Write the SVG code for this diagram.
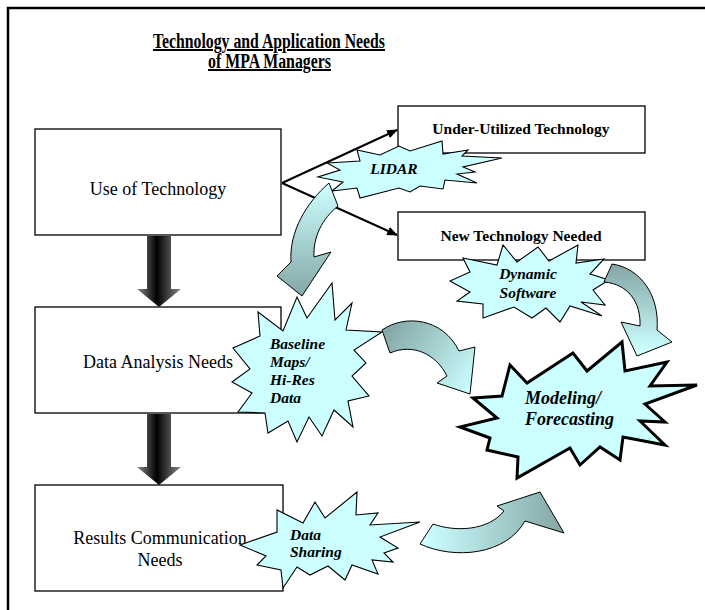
<svg xmlns="http://www.w3.org/2000/svg" width="705" height="610" viewBox="0 0 705 610">
<style>
.box{fill:#fff;stroke:#000;stroke-width:1.3}
.star{fill:#CCFFFF;stroke:#000;stroke-width:1.1;stroke-linejoin:miter}
.big{stroke-width:3}
.t{font-family:"Liberation Serif","Times New Roman",serif;fill:#000}
.reg{font-size:18px}
.bold{font-size:15.5px;font-weight:bold}
.bi{font-size:15.5px;font-weight:bold;font-style:italic}
.link{stroke:#000;stroke-width:2;fill:none}
.carrow{stroke:#000;stroke-width:1}
</style>
<defs>
<marker id="ah" viewBox="0 0 10 8" refX="9" refY="4" markerWidth="5.5" markerHeight="4.5" markerUnits="strokeWidth" orient="auto">
<path d="M0,0 L10,4 L0,8 z" fill="#000"/>
</marker>
<linearGradient id="blk" x1="0" y1="0" x2="1" y2="0">
<stop offset="0" stop-color="#8a8a8a"/>
<stop offset="0.45" stop-color="#000"/>
<stop offset="1" stop-color="#8a8a8a"/>
</linearGradient>
<linearGradient id="g1" gradientUnits="userSpaceOnUse" x1="0" y1="185" x2="0" y2="296">
<stop offset="0" stop-color="#CCFFFF"/>
<stop offset="1" stop-color="#84A6A6"/>
</linearGradient>
<linearGradient id="g2" gradientUnits="userSpaceOnUse" x1="0" y1="265" x2="0" y2="350">
<stop offset="0" stop-color="#84A6A6"/>
<stop offset="1" stop-color="#CCFFFF"/>
</linearGradient>
<linearGradient id="g3" gradientUnits="userSpaceOnUse" x1="385" y1="330" x2="470" y2="392">
<stop offset="0" stop-color="#84A6A6"/>
<stop offset="1" stop-color="#CCFFFF"/>
</linearGradient>
<linearGradient id="g4" gradientUnits="userSpaceOnUse" x1="425" y1="0" x2="563" y2="0">
<stop offset="0" stop-color="#CCFFFF"/>
<stop offset="1" stop-color="#84A6A6"/>
</linearGradient>
</defs>

<rect x="8" y="8" width="730" height="640" fill="none" stroke="#000" stroke-width="2.5"/>

<g id="title">
<text class="t" x="269" y="48" font-size="20" font-weight="bold" text-anchor="middle" text-decoration="underline" textLength="232" lengthAdjust="spacingAndGlyphs">Technology and Application Needs</text>
<text class="t" x="269.5" y="68" font-size="20" font-weight="bold" text-anchor="middle" text-decoration="underline" textLength="123" lengthAdjust="spacingAndGlyphs">of MPA Managers</text>
</g>

<g id="use-of-technology">
<rect class="box" x="35" y="129" width="246" height="106"/>
<text class="t reg" x="158" y="195" text-anchor="middle">Use of Technology</text>
</g>
<g id="under-utilized">
<rect class="box" x="398" y="106" width="247" height="47"/>
<text class="t bold" x="521" y="134" text-anchor="middle">Under-Utilized Technology</text>
</g>
<g id="new-technology">
<rect class="box" x="398" y="212" width="247" height="48"/>
<text class="t bold" x="521" y="241" text-anchor="middle">New Technology Needed</text>
</g>
<g id="data-analysis">
<rect class="box" x="35" y="307" width="246" height="106"/>
<text class="t reg" x="158" y="368" text-anchor="middle">Data Analysis Needs</text>
</g>
<g id="results-communication">
<rect class="box" x="35" y="485" width="248" height="106"/>
<text class="t reg" x="160" y="544" text-anchor="middle">Results Communication</text>
<text class="t reg" x="160" y="566" text-anchor="middle">Needs</text>
</g>

<g id="connectors">
<line class="link" x1="282" y1="183" x2="397" y2="130" marker-end="url(#ah)"/>
<line class="link" x1="282" y1="183" x2="397" y2="235" marker-end="url(#ah)"/>
<path fill="url(#blk)" d="M147,236 H171 V289 H181 L159,307 L137,289 H147 Z"/>
<path fill="url(#blk)" d="M147,414 H171 V467 H181 L159,485 L137,467 H147 Z"/>
</g>

<g id="lidar">
<polygon class="star" points="327,163 360,161 357,150 380,155 399,146 410,151 442,141 443,154 468,150 462,156 502,158 463,167 475,172 457,174 477,183 445,180 443,189 420,186 410,192 399,188 360,198 357,188 332,191 343,182 318,177 340,170"/>
<text class="t bi" x="394" y="174" text-anchor="middle">LIDAR</text>
</g>

<g id="dynamic-software">
<polygon class="star" points="463,258 497,265 503,245 517,262 538,247 549,261 578,245 576,263 604,259 590,274 609,280 593,290 605,305 581,302 602,316 570,306 560,322 546,308 532,318 514,307 483,318 483,304 457,301 470,292 450,281 470,272"/>
<text class="t bi" x="528" y="279" text-anchor="middle">Dynamic</text>
<text class="t bi" x="528" y="298" text-anchor="middle">Software</text>
</g>

<g id="baseline-maps">
<polygon class="star" points="258,312 283,331 297,297 307,318 332,283 335,320 352,303 346,330 382,332 354,350 366,363 352,376 369,396 348,401 353,427 334,410 322,436 309,417 297,442 288,421 268,433 265,413 238,412 252,393 232,382 250,369 233,348 260,336"/>
<text class="t bi" x="270" y="349">Baseline</text>
<text class="t bi" x="270" y="367">Maps/</text>
<text class="t bi" x="270" y="385">Hi-Res</text>
<text class="t bi" x="270" y="403">Data</text>
</g>

<g id="data-sharing">
<polygon class="star" points="240,545 277,532 277,510 303,523 315,502 325,518 357,492 356,515 378,513 370,525 420,522 380,537 398,548 384,553 393,562 372,560 378,574 352,565 345,580 328,566 310,575 297,567 283,588 281,570 257,565 266,556"/>
<text class="t bi" x="290" y="540">Data</text>
<text class="t bi" x="290" y="557">Sharing</text>
</g>

<g id="modeling-forecasting">
<polygon class="star big" points="510,365 527,383 573,353 587,371 622,342 625,371 667,362 650,386 697,385 645,404 665,422 640,421 665,445 623,437 620,460 600,447 580,465 570,448 517,478 518,457 487,450 490,438 460,427 497,418 473,398 502,396"/>
<text class="t" x="525" y="404" font-size="18" font-weight="bold" font-style="italic">Modeling/</text>
<text class="t" x="525" y="425" font-size="18" font-weight="bold" font-style="italic">Forecasting</text>
</g>

<g id="flow-arrows">
<path class="carrow" fill="url(#g1)" d="M329,183 C306,203 289,232 291,262 L277,276 L302,296 L331,252 L314,257 C313,237 322,219 338,206 Z"/>
<path class="carrow" fill="url(#g2)" d="M612,264 C640,268 660,295 657,330 L672,342 L637,356 L621,322 L640,326 C641,302 628,284 604,282 Z"/>
<path class="carrow" fill="url(#g3)" d="M382,330 C405,314 443,318 459,351 L475,347 L470,394 L437,383 L447,376 C436,354 413,343 390,353 Z"/>
<path class="carrow" fill="url(#g4)" d="M433,524 C455,532 488,531 504,511 L497,506 L540,492 L564,533 L525,521 C506,555 455,560 420,544 Z"/>
</g>
</svg>
